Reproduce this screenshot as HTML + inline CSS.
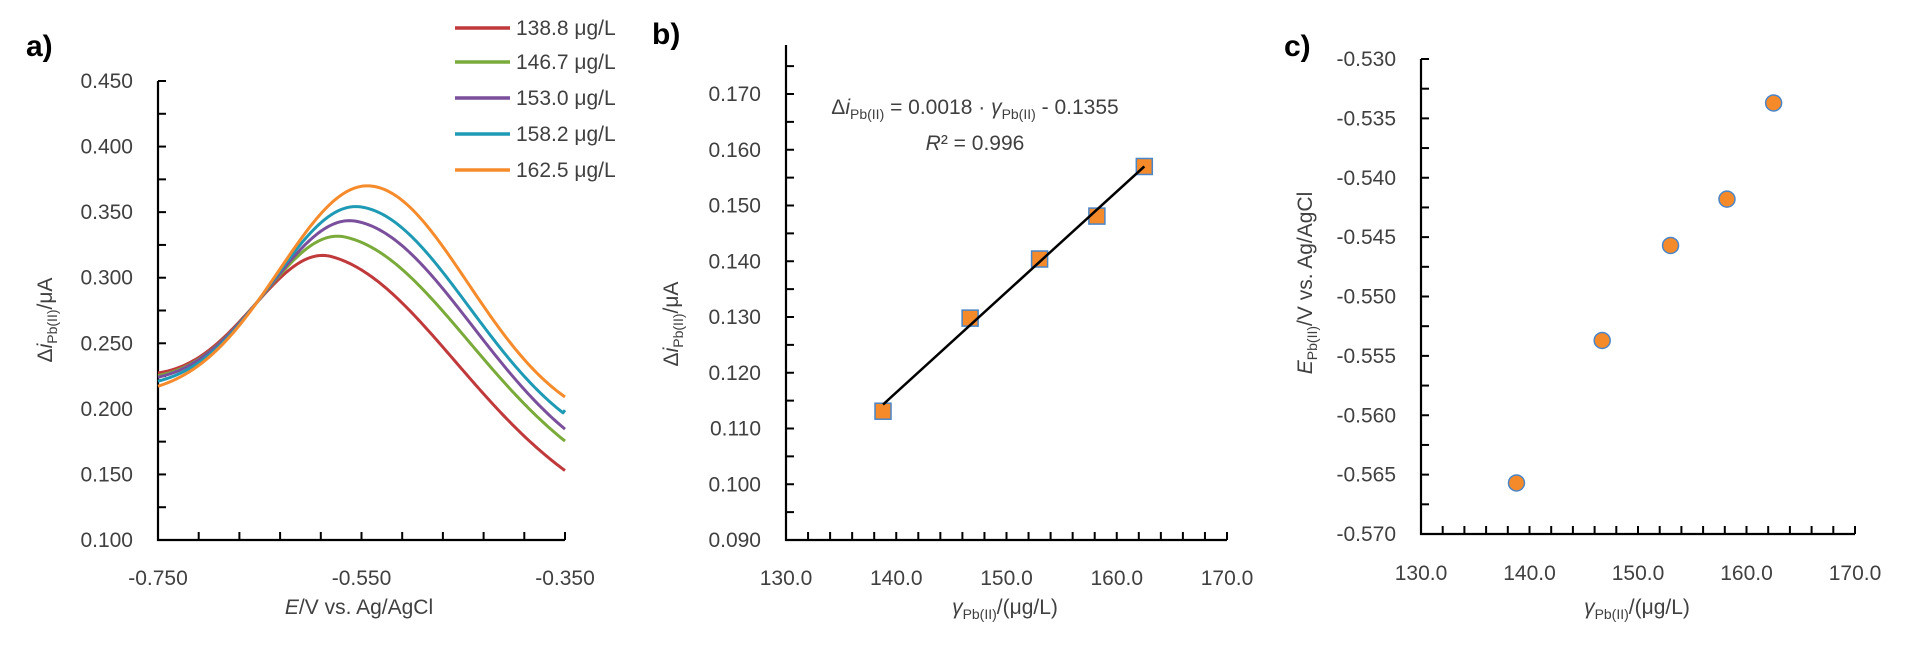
<!DOCTYPE html>
<html><head><meta charset="utf-8">
<style>
html,body{margin:0;padding:0;background:#fff;}
svg{display:block;font-family:"Liberation Sans",sans-serif;}
text{fill:#404040;}
</style></head>
<body>
<svg id="s" width="1906" height="646" viewBox="0 0 1906 646" xmlns="http://www.w3.org/2000/svg">
<text x="26" y="56" font-size="30" font-weight="bold" style="fill:#000">a)</text>
<text x="652" y="44" font-size="30" font-weight="bold" style="fill:#000">b)</text>
<text x="1284" y="56" font-size="30" font-weight="bold" style="fill:#000">c)</text>
<text transform="translate(52,320) rotate(-90)" text-anchor="middle" font-size="21">Δ<tspan font-style="italic">i</tspan><tspan font-size="14" dy="5">Pb(II)</tspan><tspan dy="-5">/μA</tspan></text>
<text x="359" y="614" text-anchor="middle" font-size="21"><tspan font-style="italic">E</tspan>/V vs. Ag/AgCl</text>
<text transform="translate(678,324) rotate(-90)" text-anchor="middle" font-size="21">Δ<tspan font-style="italic">i</tspan><tspan font-size="14" dy="5">Pb(II)</tspan><tspan dy="-5">/μA</tspan></text>
<text x="1005" y="614" text-anchor="middle" font-size="21"><tspan font-style="italic">γ</tspan><tspan font-size="14" dy="5">Pb(II)</tspan><tspan dy="-5">/(μg/L)</tspan></text>
<text transform="translate(1312,283) rotate(-90)" text-anchor="middle" font-size="21"><tspan font-style="italic">E</tspan><tspan font-size="14" dy="5">Pb(II)</tspan><tspan dy="-5">/V vs. Ag/AgCl</tspan></text>
<text x="1637" y="614" text-anchor="middle" font-size="21"><tspan font-style="italic">γ</tspan><tspan font-size="14" dy="5">Pb(II)</tspan><tspan dy="-5">/(μg/L)</tspan></text>
<text x="975" y="114" text-anchor="middle" font-size="21">Δ<tspan font-style="italic">i</tspan><tspan font-size="14" dy="5">Pb(II)</tspan><tspan dy="-5"> = 0.0018 · </tspan><tspan font-style="italic">γ</tspan><tspan font-size="14" dy="5">Pb(II)</tspan><tspan dy="-5"> - 0.1355</tspan></text>
<text x="975" y="150" text-anchor="middle" font-size="21"><tspan font-style="italic">R</tspan>² = 0.996</text>
<g id="g"></g>
</svg>
<script>
var g=document.getElementById('g'),NS='http://www.w3.org/2000/svg';
function el(t,a,txt){var e=document.createElementNS(NS,t);for(var k in a)e.setAttribute(k,a[k]);if(txt!=null)e.textContent=txt;g.appendChild(e);return e;}
function line(x1,y1,x2,y2,w,c){el('line',{x1:x1,y1:y1,x2:x2,y2:y2,stroke:c||'#000','stroke-width':w||2});}
function axes(o){
  var X0=o.x0,X1=o.x1,Y0=o.y0,Y1=o.y1;
  line(X0,o.ytop,X0,Y0+1,2.2);line(X0-1,Y0,X1,Y0,2.2);
  for(var i=0;i<=o.yn;i++){var y=Y0-(Y0-Y1)*i/o.yn;line(X0,y,X0+8,y,2);}
  if(o.ytop<Y1){var st=(Y0-Y1)/o.yn;for(var y=Y1-st;y>=o.ytop-0.5;y-=st)line(X0,y,X0+8,y,2);}
  for(var i=0;i<o.ylab.length;i++){var y=Y0-(Y0-Y1)*i/(o.ylab.length-1);el('text',{x:X0-25,y:y+7,'text-anchor':'end','font-size':21},o.ylab[i]);}
  for(var i=0;i<=o.xn;i++){var x=X0+(X1-X0)*i/o.xn;line(x,Y0,x,Y0-8,2);}
  for(var i=0;i<o.xlab.length;i++){var x=X0+(X1-X0)*i/(o.xlab.length-1);el('text',{x:x,y:o.xly,'text-anchor':'middle','font-size':21},o.xlab[i]);}
}
axes({x0:158,x1:565,y0:540,y1:81,ytop:81,yn:14,ylab:['0.100','0.150','0.200','0.250','0.300','0.350','0.400','0.450'],xn:10,xlab:['-0.750','-0.550','-0.350'],xly:585});
function ax(E){return 158+(E+0.75)/0.4*407;} function ay(v){return 540-(v-0.1)/0.35*459;}
var S=[
['#c0393b',.228,.152,-0.579,.316,-0.451],
['#7aab3a',.226,.167,-0.566,.331,-0.421],
['#7a4f9c',.224,.175,-0.555,.343,-0.407],
['#1f9ab5',.222,.190,-0.551,.354,-0.396],
['#f68b2c',.218,.207,-0.542,.370,-0.381]];
S.forEach(function(s,k){
 var bl=s[1]-0.012, br=s[2]-0.022, mu=s[3], P=s[4];
 function base(E){return bl+(br-bl)*(E+0.75)/0.4;}
 var A=P-base(mu);
 function sig(E,v){var gg=(v-base(E))/A;return Math.abs(E-mu)/Math.sqrt(-Math.log(gg));}
 var sl=sig(-0.653,0.281), sr=sig(s[5],0.23);
 function f(E){var s2=E<mu?sl:sr;return base(E)+A*Math.exp(-Math.pow((E-mu)/s2,2));}
 var d='',E;
 var Emax=(k==3)?-0.354:-0.35;
 for(E=-0.75;E<=Emax+1e-9;E+=0.002){d+=(d?' L':'M')+ax(E).toFixed(2)+' '+ay(f(E)).toFixed(2);}
 if(k==3){d+=' L'+ax(-0.352)+' '+ay(0.197)+' L'+ax(-0.35)+' '+ay(0.199);}
 el('path',{d:d,fill:'none',stroke:s[0],'stroke-width':3,'stroke-linejoin':'round'});
});
var L=['138.8 μg/L','146.7 μg/L','153.0 μg/L','158.2 μg/L','162.5 μg/L'],LY=[28,62,98,134,170];
for(var i=0;i<5;i++){line(455,LY[i],510,LY[i],3.5,S[i][0]);el('text',{x:516,y:LY[i]+7,'font-size':21},L[i]);}
axes({x0:786,x1:1227,y0:540,y1:94,ytop:45,yn:16,ylab:['0.090','0.100','0.110','0.120','0.130','0.140','0.150','0.160','0.170'],xn:20,xlab:['130.0','140.0','150.0','160.0','170.0'],xly:585});
function bx(v){return 786+(v-130)/40*441;} function by(v){return 540-(v-0.09)/0.08*446;}
var P=[[138.8,.1131],[146.7,.1298],[153.0,.1404],[158.2,.1481],[162.5,.157]];
P.forEach(function(p){el('rect',{x:bx(p[0])-8,y:by(p[1])-8,width:16,height:16,fill:'#f58a2b',stroke:'#4a86c8','stroke-width':1.5});});
line(bx(138.8),by(0.1143),bx(162.5),by(0.157),2.5,'#000');
axes({x0:1421,x1:1855,y0:534,y1:59,ytop:59,yn:16,ylab:['-0.570','-0.565','-0.560','-0.555','-0.550','-0.545','-0.540','-0.535','-0.530'],xn:20,xlab:['130.0','140.0','150.0','160.0','170.0'],xly:580});
function cx(v){return 1421+(v-130)/40*434;} function cy(v){return 534-(v+0.57)/0.04*475;}
[[138.8,-0.5657],[146.7,-0.5537],[153.0,-0.5457],[158.2,-0.5418],[162.5,-0.5337]].forEach(function(p){
 el('circle',{cx:cx(p[0]),cy:cy(p[1]),r:8,fill:'#f58a2b',stroke:'#4a86c8','stroke-width':1.5});});
</script>
</body></html>
